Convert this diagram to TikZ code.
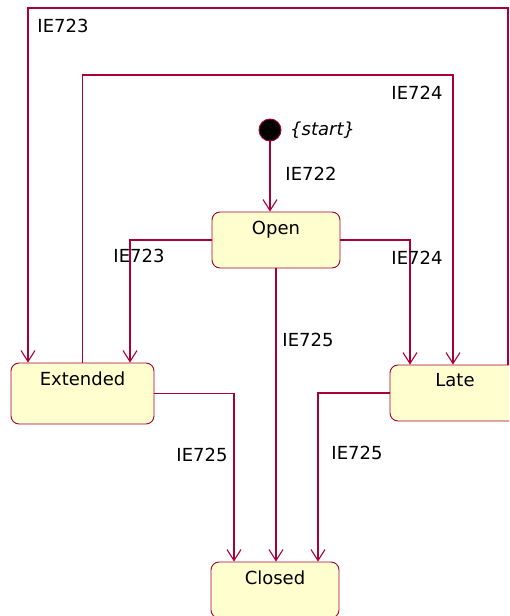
\documentclass[tikz,border=0pt]{standalone}
\usepackage{fontspec}
\setmainfont{DejaVu Sans}
\usetikzlibrary{arrows.meta}
\definecolor{umlred}{HTML}{A80036}
\definecolor{umlfill}{HTML}{FEFECE}

\begin{document}
\begin{tikzpicture}[
  x=1pt, y=-1pt,
  font=\fontsize{18}{22}\selectfont,
  state/.style={draw=umlred, fill=umlfill, rounded corners=8pt, line width=0.9pt,
    minimum width=128pt, minimum height=56pt, inner sep=0pt},
  statename/.style={anchor=north, inner sep=0pt, yshift=-9pt},
  startdot/.style={circle, fill=black, draw=umlred, line width=0.9pt,
    minimum size=22pt, inner sep=0pt},
  flow/.style={draw=umlred, line width=1.1pt,
    -{Straight Barb[length=11pt, width=14pt]}},
  trigger/.style={inner sep=0pt}
]
\path[use as bounding box, clip] (0,0) rectangle (509,616);

\node[startdot] (start) at (270,130) {};
\node[anchor=west, inner sep=0pt, font=\fontsize{18}{22}\selectfont\itshape]
  (startlbl) at (290,130) {\{start\}};
\node[state, label={[statename]north:Open}] (open) at (276,240) {};
\node[state, minimum width=143pt, minimum height=61pt,
  label={[statename]north:Extended}] (ext) at (82.5,393.5) {};
\node[state, minimum width=130pt, label={[statename]north:Late}] (late) at (455,393) {};
\node[state, label={[statename]north:Closed}] (closed) at (275,590) {};

\coordinate (top1) at (0,8);
\coordinate (top2) at (0,75);

% transitions
\draw[flow] (start) -- (start |- open.north);
\draw[flow] (open.west) -| ([xshift=47.5pt]ext.north);
\draw[flow] (open.east) -| ([xshift=-45pt]late.north);
\draw[flow] (open.south) -- (open.south |- closed.north);
\draw[flow] (ext.north) -- (ext.north |- top2) -| ([xshift=-2pt]late.north);
\draw[flow] ([xshift=53pt]late.north) -- ([xshift=53pt]late.north |- top1)
  -| ([xshift=-54.5pt]ext.north);
\draw[flow] (ext.east) -| ([xshift=-41pt]closed.north);
\draw[flow] (late.west) -| ([xshift=43pt]closed.north);

% labels
\node[trigger] (t722) at (311,174) {IE722};
\node[trigger] (t723a) at (139,256) {IE723};
\node[trigger] (t724a) at (417,258) {IE724};
\node[trigger] (t725a) at (308,340) {IE725};
\node[trigger] (t724b) at (417,93) {IE724};
\node[trigger] (t723b) at (63,26) {IE723};
\node[trigger] (t725b) at (202,455) {IE725};
\node[trigger] (t725c) at (357,453) {IE725};
\end{tikzpicture}
\end{document}
